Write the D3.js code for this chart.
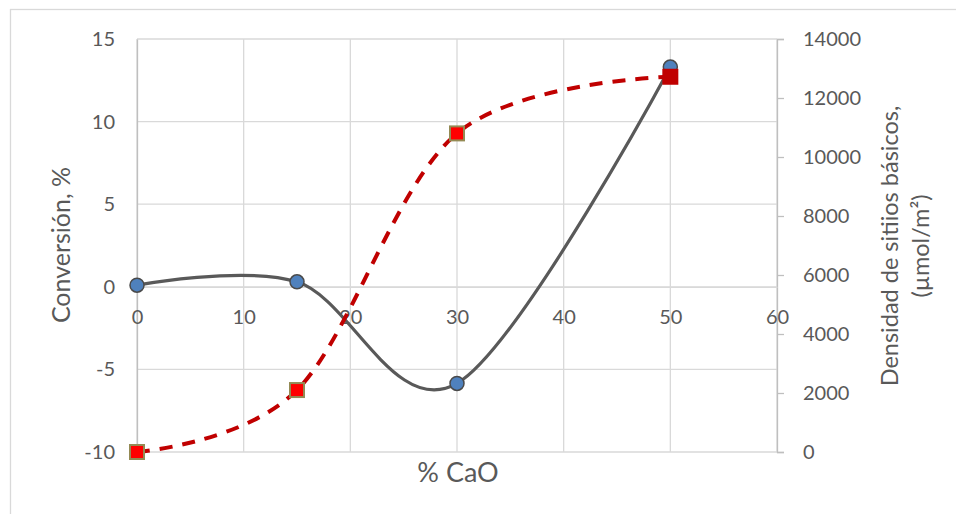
<!DOCTYPE html>
<html>
<head>
<meta charset="utf-8">
<script src="https://cdn.jsdelivr.net/npm/d3@7"></script>
<style>
  body { margin: 0; background: #fff; }
  svg { font-family: Lato, "Open Sans", sans-serif; }
</style>
</head>
<body>
<svg id="chart" width="956" height="514"></svg>
<script>
// data
const caoPct = [0, 15, 30, 50];
const conversion = [0.1, 0.3, -5.85, 13.3];
const basicSites = [0, 2100, 10800, 12720];
const xTicks = [0, 10, 20, 30, 40, 50, 60];
const leftTicks = [-10, -5, 0, 5, 10, 15];
const rightTicks = [0, 2000, 4000, 6000, 8000, 10000, 12000, 14000];

const svg = d3.select("#chart");
const grid = "#d9d9d9";
const txt = "#595959";
const fmt = d => String(d); // plain hyphen, no thousands separator

const x = d3.scaleLinear().domain([0, 60]).range([137, 777]);
const yL = d3.scaleLinear().domain([-10, 15]).range([452, 39]);
const yR = d3.scaleLinear().domain([0, 14000]).range([452, 39]);

// outer chart border
svg.append("rect")
  .attr("x", 10.5).attr("y", 9.5)
  .attr("width", 1000).attr("height", 1000)
  .attr("fill", "none").attr("stroke", grid).attr("stroke-width", 1.3);

// gridlines
svg.append("g").selectAll("line").data(leftTicks).join("line")
  .attr("x1", x(0)).attr("x2", x(60))
  .attr("y1", d => yL(d)).attr("y2", d => yL(d))
  .attr("stroke", grid).attr("stroke-width", 1.3);
svg.append("g").selectAll("line").data(xTicks).join("line")
  .attr("x1", d => x(d)).attr("x2", d => x(d))
  .attr("y1", yL(15)).attr("y2", yL(-10))
  .attr("stroke", grid).attr("stroke-width", 1.3);

// left axis (labels only)
const leftAxis = svg.append("g")
  .attr("transform", `translate(${x(0)},0)`)
  .call(d3.axisLeft(yL).tickValues(leftTicks).tickFormat(fmt).tickSize(0).tickPadding(22));
leftAxis.select(".domain").attr("stroke", "#bfbfbf").attr("stroke-width", 1.3);

// right axis
const rightAxis = svg.append("g")
  .attr("transform", `translate(${x(60)},0)`)
  .call(d3.axisRight(yR).tickValues(rightTicks).tickFormat(fmt).tickSize(7).tickPadding(19));
rightAxis.selectAll("line").attr("stroke", "#bfbfbf").attr("stroke-width", 1.3);
rightAxis.select(".domain").attr("stroke", "#bfbfbf").attr("stroke-width", 1.3);

// x axis crossing at 0
const xAxis = svg.append("g")
  .attr("transform", `translate(0,${yL(0)})`)
  .call(d3.axisBottom(x).tickValues(xTicks).tickFormat(fmt).tickSize(0).tickPadding(23));
xAxis.select(".domain").attr("stroke", grid).attr("stroke-width", 1.3);

svg.selectAll(".tick text")
  .attr("fill", txt).style("font-size", "20px")
  .style("font-family", "Lato, 'Open Sans', sans-serif");

// axis titles
svg.append("text")
  .attr("transform", `translate(70,245) rotate(-90)`)
  .attr("text-anchor", "middle").attr("fill", txt)
  .style("font-size", "25px").text("Conversión, %");

svg.append("text")
  .attr("x", 458).attr("y", 482)
  .attr("text-anchor", "middle").attr("fill", txt)
  .style("font-size", "27px").text("% CaO");

const rt = svg.append("text")
  .attr("transform", `translate(898,246) rotate(-90)`)
  .attr("text-anchor", "middle").attr("fill", txt)
  .style("font-size", "23.5px");
rt.append("tspan").attr("x", 0).attr("dy", 0).text("Densidad de sitiios básicos,");
rt.append("tspan").attr("x", 0).attr("dy", 31).text("(µmol/m²)");

// series 1: conversion (left axis)
const convPts = caoPct.map((c, i) => [c, conversion[i]]);
svg.append("path")
  .datum(convPts)
  .attr("fill", "none").attr("stroke", "#595959").attr("stroke-width", 3.2)
  .attr("d", d3.line().x(d => x(d[0])).y(d => yL(d[1])).curve(d3.curveCardinal.tension(0)));
svg.append("g").selectAll("circle").data(convPts).join("circle")
  .attr("cx", d => x(d[0])).attr("cy", d => yL(d[1])).attr("r", 7)
  .attr("fill", "#4f81bd").attr("stroke", "#4a4a4a").attr("stroke-width", 1.5);

// series 2: basic site density (right axis)
const densPts = caoPct.map((c, i) => [c, basicSites[i]]);
svg.append("path")
  .datum(densPts)
  .attr("fill", "none").attr("stroke", "#c00000").attr("stroke-width", 4)
  .attr("stroke-dasharray", "13,10")
  .attr("d", d3.line().x(d => x(d[0])).y(d => yR(d[1])).curve(d3.curveCardinal.tension(0)));
svg.append("g").selectAll("rect").data(densPts).join("rect")
  .attr("x", d => x(d[0]) - 7).attr("y", d => yR(d[1]) - 7)
  .attr("width", 14).attr("height", 14)
  .attr("fill", (d, i) => i === densPts.length - 1 ? "#c00000" : "#ff0000")
  .attr("stroke", (d, i) => i === densPts.length - 1 ? "#c00000" : "#948a54")
  .attr("stroke-width", 2);
</script>
</body>
</html>
